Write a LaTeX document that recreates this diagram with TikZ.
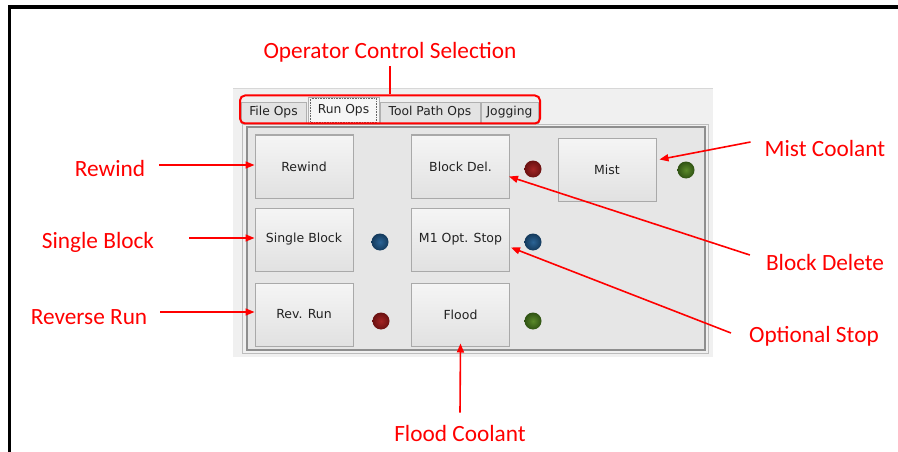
\documentclass[tikz,border=0pt]{standalone}
\usepackage{fontspec}
\newfontfamily\lblfont{Carlito}
\newfontfamily\uifont{DejaVu Sans}
\usetikzlibrary{arrows.meta,calc}

\definecolor{winbg}{HTML}{F0F0F0}
\definecolor{panelbg}{HTML}{E6E6E6}
\definecolor{paneledge}{HTML}{8E8E8E}
\definecolor{paneledgelight}{HTML}{BDBDBD}
\definecolor{btntop}{HTML}{F5F5F5}
\definecolor{btnbot}{HTML}{E1E1E1}
\definecolor{btnedge}{HTML}{A9A9A9}
\definecolor{uitext}{HTML}{222222}
\definecolor{tabbg}{HTML}{E3E3E3}
\definecolor{tabsel}{HTML}{F6F6F6}
\definecolor{tabedge}{HTML}{B0B0B0}
\definecolor{ledredin}{HTML}{A42424}
\definecolor{ledredout}{HTML}{6A1111}
\definecolor{ledbluein}{HTML}{2B6496}
\definecolor{ledblueout}{HTML}{143A5C}
\definecolor{ledgreenin}{HTML}{5A8A2A}
\definecolor{ledgreenout}{HTML}{2F5213}

\begin{document}
\begin{tikzpicture}[x=1pt,y=-1pt,
  callout/.style={text=red, font=\lblfont\fontsize{23.3}{28}\selectfont, inner sep=0pt},
  pointer/.style={draw=red, line width=1.6pt, -{Triangle[length=9pt,width=7pt]}},
  btn/.style={draw=btnedge, line width=1pt, top color=btntop, bottom color=btnbot,
    minimum width=98pt, minimum height=63pt, inner sep=0pt,
    text=uitext, font=\uifont\fontsize{12.5}{15}\selectfont},
  tab/.style={draw=tabedge, line width=0.8pt, fill=tabbg, minimum height=21pt,
    inner sep=0pt, text=uitext, font=\uifont\fontsize{12.3}{15}\selectfont},
  led/.style={circle, minimum size=17pt, inner sep=0pt, shading=radial},
  ledred/.style={led, inner color=ledredin, outer color=ledredout},
  ledblue/.style={led, inner color=ledbluein, outer color=ledblueout},
  ledgreen/.style={led, inner color=ledgreenin, outer color=ledgreenout}]

\useasboundingbox (0,0) rectangle (898,452);
\fill[white] (0,0) rectangle (898,452);

% page frame
\draw[black, line width=3.5pt] (9.5,452) -- (9.5,7) -- (898,7);

% window background
\fill[winbg] (233,88) rectangle (713,357);
\draw[paneledgelight!60, line width=0.8pt] (233,88) -- (713,88);

% tab content panel
\draw[paneledgelight, line width=0.8pt] (242,124) rectangle (708,353);
\draw[paneledge, line width=1.3pt, fill=panelbg] (247,127) rectangle (705,350);

% tab strip
\node[tab, minimum width=65pt] (tfile) at (273.5,112.5) {File Ops};
\node[tab, minimum width=100pt] (ttool) at (430,112.5) {Tool Path Ops};
\node[tab, minimum width=57pt] (tjog) at (509.5,112.5) {Jogging};
\node[tab, fill=tabsel, minimum width=71pt, minimum height=27pt] (trun) at (343.5,110.5) {Run Ops};
\draw[uitext!70, densely dotted, line width=0.6pt]
  ($(trun.north west)+(3,2)$) rectangle ($(trun.south east)+(-3,-2)$);

% buttons
\node[btn] (rewind) at (304,166.5) {Rewind};
\node[btn] (single) at (304,239.5) {Single Block};
\node[btn] (revrun) at (304,314.5) {Rev. Run};
\node[btn] (bdel)   at (460.5,166.5) {Block Del.};
\node[btn] (mone)   at (460.5,239.5) {M1 Opt. Stop};
\node[btn] (flood)  at (460.5,314.5) {Flood};
\node[btn] (mist)   at (607,169.5) {Mist};

% indicator lamps
\node[ledred]   (lampbdel)   at (533,169) {};
\node[ledblue]  (lampsingle) at (380,242) {};
\node[ledblue]  (lampmone)   at (533,242) {};
\node[ledred]   (lamprev)    at (381,321) {};
\node[ledgreen] (lampflood)  at (533,321) {};
\node[ledgreen] (lampmist)   at (686,170) {};

% tab selection highlight
\node[draw=red, line width=2pt, rounded corners=5pt, minimum width=300pt,
  minimum height=28pt, inner sep=0pt] (tabbox) at (390,109.5) {};

% callouts
\node[callout] (locs)   at (390,52)  {Operator Control Selection};
\node[callout] (lrew)   at (110,168) {Rewind};
\node[callout] (lsing)  at (98,242)  {Single Block};
\node[callout] (lrev)   at (89,317)  {Reverse Run};
\node[callout] (lmist)  at (825,148) {Mist Coolant};
\node[callout] (lbdel)  at (825,262) {Block Delete};
\node[callout] (lopt)   at (814,336) {Optional Stop};
\node[callout] (lflood) at (460,433) {Flood Coolant};

% connectors
\draw[draw=red, line width=1.6pt] ([yshift=-4pt]locs.south) -- (tabbox.north);
\draw[pointer] ($(lrew.east|-rewind.west)+(14,-1.5)$) -- ($(rewind.west)+(0,-1.5)$);
\draw[pointer] ($(lsing.east|-single.west)+(35,-1.5)$) -- ($(single.west)+(0,-1.5)$);
\draw[pointer] ($(lrev.east|-revrun.west)+(13,-2.5)$) -- ($(revrun.west)+(0,-2.5)$);
\draw[pointer] ($(lmist.west)+(-14,-6)$) -- ($(mist.east)+(3,-10)$);
\draw[pointer] ($(lbdel.west)+(-16,-7)$) -- ($(bdel.east)+(-1,10)$);
\draw[pointer] ($(lopt.west)+(-18,-3)$) -- ($(mone.east)+(1,8)$);
\draw[pointer] ($(lflood.north)+(0,-12)$) -- ($(flood.south)+(0,-3)$);

\end{tikzpicture}
\end{document}
